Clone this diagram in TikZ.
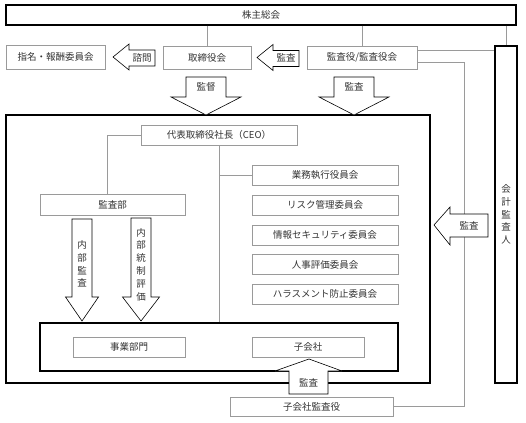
\documentclass[tikz,border=0pt]{standalone}
\usepackage{fontspec}
\newfontfamily\jp{Noto Sans CJK JP}
\definecolor{linegray}{HTML}{9A9A9A}
\definecolor{txt}{HTML}{333333}
\begin{document}
\begin{tikzpicture}[x=1pt,y=-1pt,
  font=\jp\fontsize{9.5}{12.8}\selectfont,
  gbox/.style={draw=linegray, line width=0.6pt, fill=white, inner sep=0pt, text=txt},
  kbox/.style={draw=black, line width=1.2pt, inner sep=0pt, text=txt},
  conn/.style={draw=linegray, line width=0.6pt},
  arr/.style={draw=black, line width=0.6pt, fill=white},
  lbl/.style={inner sep=0pt, text=txt, align=center}]
\useasboundingbox (0,0) rectangle (526,422);

% frames
\node[kbox, minimum width=424pt, minimum height=268pt] (big) at (218,249) {};
\node[kbox, minimum width=358pt, minimum height=48pt] (inner) at (219,347) {};
\node[kbox, minimum width=510pt, minimum height=20pt] (top) at (261,15) {株主総会};
\node[kbox, minimum width=22pt, minimum height=337pt, align=center] (kaikei) at (506,214.5) {会\\計\\監\\査\\人};

% boxes
\node[gbox, minimum width=99pt, minimum height=24pt] (nomi) at (55.5,57) {指名・報酬委員会};
\node[gbox, minimum width=88pt, minimum height=23pt] (tori) at (207,57.5) {取締役会};
\node[gbox, minimum width=110pt, minimum height=23pt] (kansa) at (362,57.5) {監査役/監査役会};
\node[gbox, minimum width=156pt, minimum height=20pt] (ceo) at (219,135) {代表取締役社長（CEO）};
\node[gbox, minimum width=145pt, minimum height=21pt] (kansabu) at (112.5,204.5) {監査部};
\node[gbox, minimum width=146pt, minimum height=20pt] (r1) at (325,175) {業務執行役員会};
\node[gbox, minimum width=146pt, minimum height=20pt] (r2) at (325,205) {リスク管理委員会};
\node[gbox, minimum width=146pt, minimum height=20pt] (r3) at (325,235) {情報セキュリティ委員会};
\node[gbox, minimum width=146pt, minimum height=20pt] (r4) at (325,264.5) {人事評価委員会};
\node[gbox, minimum width=146pt, minimum height=20pt] (r5) at (325,294) {ハラスメント防止委員会};
\node[gbox, minimum width=112pt, minimum height=20pt] (jigyo) at (129,347) {事業部門};
\node[gbox, minimum width=112pt, minimum height=20pt] (kogaisha) at (308,347) {子会社};
\node[gbox, minimum width=163pt, minimum height=19pt] (kokansa) at (311.5,406.5) {子会社監査役};

% connectors
\coordinate (rc) at (464,0);
\draw[conn] (tori.north |- top.south) -- (tori.north);
\draw[conn] (kansa.north |- top.south) -- (kansa.north);
\draw[conn] (kaikei.north |- top.south) -- (kaikei.north);
\draw[conn] ([yshift=7.5pt]kansa.east) -- ([yshift=7.5pt]kansa.east -| kaikei.west);
\draw[conn] ([yshift=-4.5pt]kansa.east) -| (rc |- kokansa.east) -- (kokansa.east);
\draw[conn] (ceo.west) -| ([xshift=-5.5pt]kansabu.north);
\draw[conn] (ceo.south) -- (ceo.south |- inner.north);
\draw[conn] (ceo.south |- r1.west) -- (r1.west);

% block arrows
% 諮問 (left)
\draw[arr] (113,57) -- (129,44) -- (129,50) -- (155,50) -- (155,66) -- (129,66) -- (129,70) -- cycle;
\node[lbl] (l1) at (142,58) {諮問};
% 監査 (left, top)
\draw[arr] (257,57.5) -- (273,44.5) -- (273,50.5) -- (299,50.5) -- (299,66.5) -- (273,66.5) -- (273,70.5) -- cycle;
\node[lbl] (l2) at (286,58) {監査};
% 監督 (down)
\draw[arr] (186,77) -- (226,77) -- (226,97) -- (241,97) -- (206,115) -- (171,97) -- (186,97) -- cycle;
\node[lbl] (l3) at (206,87) {監督};
% 監査 (down)
\draw[arr] (334,77) -- (374,77) -- (374,97) -- (389,97) -- (354,115) -- (319,97) -- (334,97) -- cycle;
\node[lbl] (l4) at (354,87) {監査};
% 内部監査 (down)
\draw[arr] (72,219) -- (92,219) -- (92,297) -- (98.5,297) -- (82,321) -- (65.5,297) -- (72,297) -- cycle;
\node[lbl] (l5) at (82,264) {内\\部\\監\\査};
% 内部統制評価 (down)
\draw[arr] (131,218) -- (151,218) -- (151,297) -- (159.5,297) -- (141,321) -- (122.5,297) -- (131,297) -- cycle;
\node[lbl] (l6) at (141,264.5) {内\\部\\統\\制\\評\\価};
% 監査 (up)
\draw[arr] (309,359) -- (342,371) -- (328,371) -- (328,394) -- (289,394) -- (289,371) -- (275,371) -- cycle;
\node[lbl] (l7) at (308.5,383) {監査};
% 監査 (left, right side)
\draw[arr] (434,225) -- (450,207) -- (450,214) -- (488,214) -- (488,237) -- (450,237) -- (450,245) -- cycle;
\node[lbl] (l8) at (469,226) {監査};
\end{tikzpicture}
\end{document}
